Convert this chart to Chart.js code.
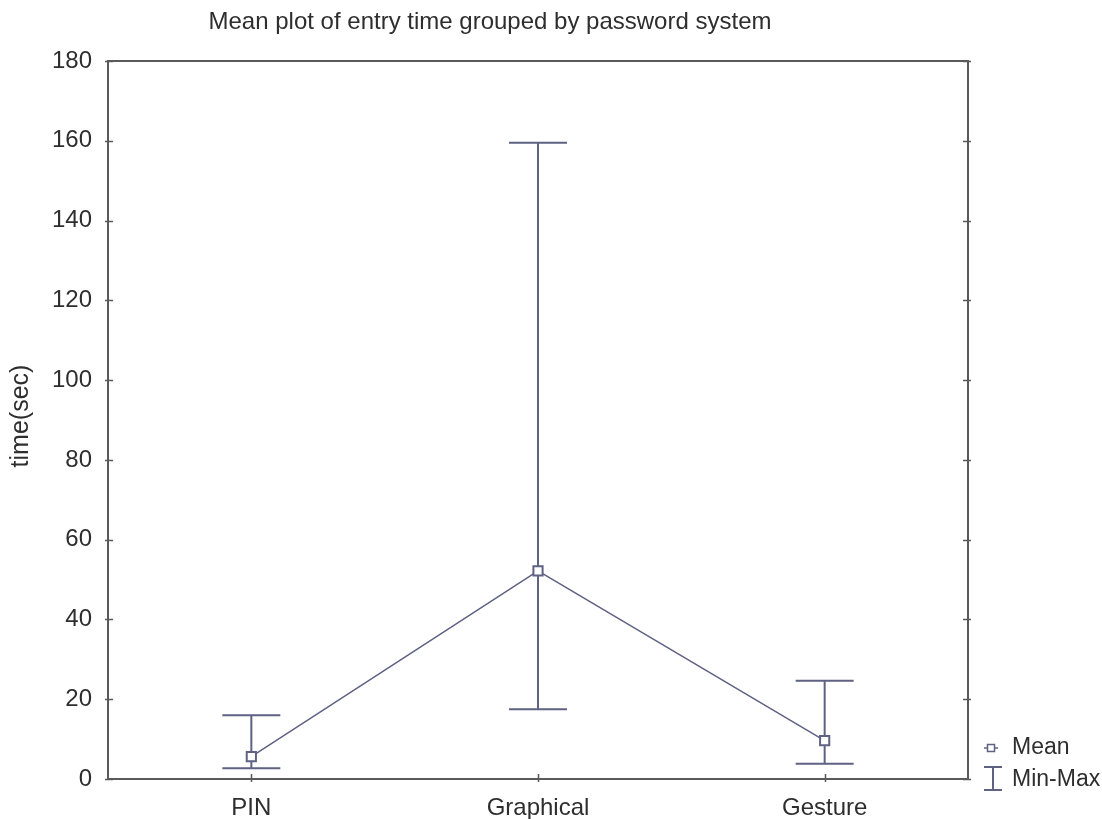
<!DOCTYPE html>
<html>
<head>
<meta charset="utf-8">
<script src="https://cdn.jsdelivr.net/npm/chart.js@4/dist/chart.umd.min.js"></script>
<style>
  html, body { margin: 0; padding: 0; background: #ffffff; }
  #wrap { width: 1102px; height: 819px; }
</style>
</head>
<body>
<div id="wrap"><canvas id="chart" width="1102" height="819"></canvas></div>
<script>
// Entry time per password system: mean with min/max range (seconds)
const categories = ['PIN', 'Graphical', 'Gesture'];
const meanValues = [5.6, 52.2, 9.6];
const minValues  = [2.7, 17.5, 3.8];
const maxValues  = [16.0, 159.5, 24.6];
const yTickValues = [0, 20, 40, 60, 80, 100, 120, 140, 160, 180];

const FONT = '"Liberation Sans", Arial, sans-serif';
const INK = '#2e2e2e';
const SERIES = '#5f6283';
const FRAME = '#5a5a5a';

// Frame, inward ticks, min–max whiskers, titles and legend
const decorations = {
  id: 'decorations',
  beforeDatasetsDraw(chart) {
    const ctx = chart.ctx;
    const x = chart.scales.x, y = chart.scales.y;
    ctx.save();
    ctx.strokeStyle = SERIES;
    ctx.lineWidth = 2;
    const cap = 29;
    categories.forEach((c, i) => {
      const px = x.getPixelForValue(i);
      const top = y.getPixelForValue(maxValues[i]);
      const bot = y.getPixelForValue(minValues[i]);
      ctx.beginPath();
      ctx.moveTo(px, top); ctx.lineTo(px, bot);
      ctx.moveTo(px - cap, top); ctx.lineTo(px + cap, top);
      ctx.moveTo(px - cap, bot); ctx.lineTo(px + cap, bot);
      ctx.stroke();
    });
    ctx.restore();
  },
  afterDraw(chart) {
    const ctx = chart.ctx;
    const a = chart.chartArea;
    const x = chart.scales.x, y = chart.scales.y;
    ctx.save();
    // frame
    ctx.strokeStyle = FRAME;
    ctx.lineWidth = 2;
    ctx.strokeRect(a.left, a.top, a.right - a.left, a.bottom - a.top);
    // inward ticks
    ctx.lineWidth = 1.5;
    ctx.beginPath();
    yTickValues.forEach(v => {
      const py = Math.round(y.getPixelForValue(v)) + 0.5;
      ctx.moveTo(a.left - 3, py); ctx.lineTo(a.left + 5, py);
      ctx.moveTo(a.right - 5, py); ctx.lineTo(a.right + 3, py);
    });
    categories.forEach((c, i) => {
      const px = Math.round(x.getPixelForValue(i)) + 0.5;
      ctx.moveTo(px, a.bottom + 3); ctx.lineTo(px, a.bottom - 5);
    });
    ctx.stroke();

    // chart title
    ctx.fillStyle = INK;
    ctx.font = '24px ' + FONT;
    ctx.textAlign = 'center';
    ctx.textBaseline = 'middle';
    ctx.fillText('Mean plot of entry time grouped by password system', 490, 22);

    // y-axis title
    ctx.save();
    ctx.translate(21, 416);
    ctx.rotate(-Math.PI / 2);
    ctx.font = '25px ' + FONT;
    ctx.fillText('time(sec)', 0, 0);
    ctx.restore();

    // legend
    ctx.textAlign = 'left';
    ctx.font = '23px ' + FONT;
    ctx.fillText('Mean', 1012, 748);
    ctx.fillText('Min-Max', 1012, 780);
    ctx.strokeStyle = SERIES;
    ctx.lineWidth = 1.5;
    ctx.beginPath();
    ctx.moveTo(984, 748); ctx.lineTo(998, 748);
    ctx.stroke();
    ctx.fillStyle = '#ffffff';
    ctx.fillRect(987.5, 744.5, 7, 7);
    ctx.strokeRect(987.5, 744.5, 7, 7);
    ctx.lineWidth = 2;
    ctx.beginPath();
    ctx.moveTo(993, 767); ctx.lineTo(993, 790);
    ctx.moveTo(984, 767); ctx.lineTo(1002, 767);
    ctx.moveTo(984, 790); ctx.lineTo(1002, 790);
    ctx.stroke();
    ctx.restore();
  }
};

new Chart(document.getElementById('chart'), {
  type: 'line',
  data: {
    labels: categories,
    datasets: [{
      label: 'Mean',
      data: meanValues,
      borderColor: SERIES,
      borderWidth: 1.5,
      pointStyle: 'rect',
      pointRadius: 6.5,
      pointBorderWidth: 2,
      pointBackgroundColor: '#ffffff',
      pointBorderColor: SERIES,
      tension: 0,
      fill: false
    }]
  },
  options: {
    responsive: false,
    animation: false,
    devicePixelRatio: 1,
    layout: { padding: { left: 0, top: 61, right: 134, bottom: 0 } },
    plugins: {
      legend: { display: false },
      title: { display: false },
      tooltip: { enabled: false }
    },
    scales: {
      x: {
        type: 'category',
        offset: true,
        grid: { display: false, drawTicks: false },
        border: { display: false },
        ticks: { color: INK, font: { family: FONT, size: 24 }, padding: 15 },
        afterFit(scale) { scale.height = 40; }
      },
      y: {
        min: 0,
        max: 180,
        grid: { display: false, drawTicks: false },
        border: { display: false },
        afterBuildTicks(scale) { scale.ticks = yTickValues.map(v => ({ value: v })); },
        ticks: { color: INK, font: { family: FONT, size: 24 }, padding: 16 },
        afterFit(scale) { scale.width = 108; }
      }
    }
  },
  plugins: [decorations]
});
</script>
</body>
</html>
